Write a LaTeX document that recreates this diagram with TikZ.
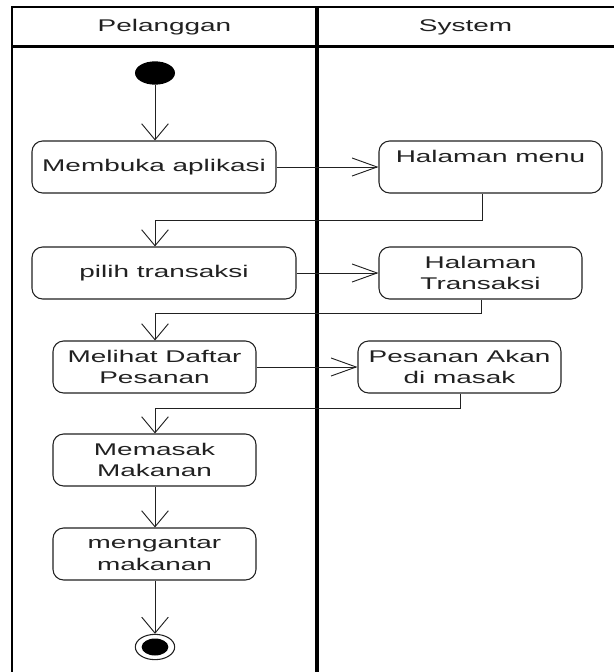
\documentclass[tikz,border=0pt]{standalone}
\usepackage{fontspec}
\setmainfont{Liberation Sans}
\usepackage{graphicx}
\usetikzlibrary{arrows.meta,shapes.geometric}
\definecolor{ink}{gray}{0.13}
% wide lettering used throughout the activity diagram
\newcommand\wide[1]{\scalebox{1.65}[1]{#1}}

\begin{document}
\begin{tikzpicture}[x=0.75pt,y=-0.75pt,
  every node/.style={font=\fontsize{12.7}{16.3}\selectfont, text=ink},
  action/.style={draw=ink, line width=0.8pt, rounded corners=8pt, inner sep=0pt,
                 align=center, minimum height=39pt},
  flow/.style={draw=ink, line width=0.7pt},
  downtip/.style={-{Straight Barb[length=12pt,width=20pt]}},
  sidetip/.style={-{Straight Barb[length=18.75pt,width=13.5pt]}},
  lane/.style={draw=black, line width=1.5pt},
  divider/.style={draw=black, line width=2.7pt},
]
\useasboundingbox (0,0) rectangle (614,672);
\clip (0,0) rectangle (614,672);

% swimlane frame
\draw[lane] (12,676) -- (12,7) -- (620,7);
\draw[divider] (12,46.5) -- (620,46.5);
\draw[divider] (317,7) -- (317,676);
\node (laneA) at (164.5,27) {\wide{Pelanggan}};
\node (laneB) at (465.5,27) {\wide{System}};

% start and end markers
\node[ellipse, fill=black, minimum width=30pt, minimum height=17.5pt, inner sep=0pt] (start) at (155,73) {};
\node[ellipse, draw=ink, line width=0.8pt, minimum width=29.5pt, minimum height=19pt, inner sep=0pt] (end) at (155,647) {};
\node[ellipse, fill=black, minimum width=20pt, minimum height=12.75pt, inner sep=0pt] (endcore) at (end.center) {};

% actions of the customer
\node[action, minimum width=183pt] (m1) at (154,167) {\wide{Membuka aplikasi}};
\node[action, minimum width=198pt] (m2) at (164,273) {\wide{pilih transaksi}};
\node[action, minimum width=152.25pt] (m3) at (154.5,367) {\wide{Melihat Daftar}\\\wide{Pesanan}};
\node[action, minimum width=152.25pt] (m4) at (154.5,460) {\wide{Memasak}\\\wide{Makanan}};
\node[action, minimum width=152.25pt] (m5) at (154.5,554) {\wide{mengantar}\\\wide{makanan}};

% actions of the system
\node[action, minimum width=167.25pt] (s1) at (490.5,167) {\wide{Halaman menu}\\\mbox{}};
\node[action, minimum width=152.25pt] (s2) at (480.5,273) {\wide{Halaman}\\\wide{Transaksi}};
\node[action, minimum width=152.25pt] (s3) at (459.5,367) {\wide{Pesanan Akan}\\\wide{di masak}};

% control flow
\draw[flow, downtip] (start) -- (m1.north -| start);
\draw[flow, sidetip] (m1.east) -- (s1.west);
\draw[flow, downtip] ([xshift=-6.4pt]s1.south) -- ++(0,27) -| (m2.north -| start);
\draw[flow, sidetip] (m2.east) -- (s2.west);
\draw[flow, downtip] ([xshift=1pt]s2.south) -- ++(0,14) -| (m3.north -| start);
\draw[flow, sidetip] (m3.east) -- (s3.west);
\draw[flow, downtip] ([xshift=1pt]s3.south) -- ++(0,15) -| (m4.north -| start);
\draw[flow, downtip] (m4.south -| start) -- (m5.north -| start);
\draw[flow, downtip] (m5.south -| start) -- (end.north);
\end{tikzpicture}
\end{document}
